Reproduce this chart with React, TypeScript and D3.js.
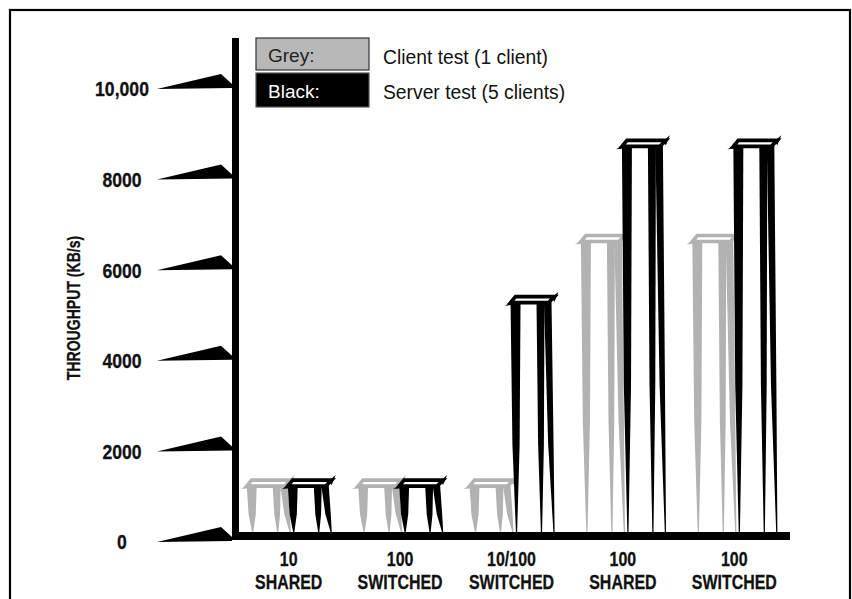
import React from "react";
import * as d3 from "d3";

const categoryTop = ["10", "100", "10/100", "100", "100"];
const categoryBottom = ["SHARED", "SWITCHED", "SWITCHED", "SHARED", "SWITCHED"];
const clientTest = [1300, 1300, 1300, 6700, 6700];
const serverTest = [1300, 1300, 5350, 8800, 8800];
const yTicks = [0, 2000, 4000, 6000, 8000, 10000];
const yTickLabels = ["0", "2000", "4000", "6000", "8000", "10,000"];
const seriesNames = ["client", "server"];
const legendKeys = ["Grey:", "Black:"];
const legendTexts = ["Client test (1 client)", "Server test (5 clients)"];

const W = 852;
const H = 599;
const GREY = "#b2b2b2";
const BLACK = "#000";
const BASE = 532;

const line = d3.line<[number, number]>();
const poly = (pts: [number, number][]) => line(pts) + "Z";

// a leg: top spans [a, b] at yTop, keeps most of its width to a knee, then tapers to a point p at the base
function leg(a: number, b: number, p: number, yTop: number, yB: number): string {
  const k = yTop + (yB - yTop) * 0.62;
  const m = (a + b) / 2;
  const half = (b - a) / 2;
  return poly([
    [a, yTop],
    [b, yTop],
    [m + half * 0.72 + (p - m) * 0.5, k],
    [p + 0.6, yB],
    [p - 0.6, yB],
    [m - half * 0.72 + (p - m) * 0.5, k],
  ]);
}

function Bar({ x0, w, yT, color }: { x0: number; w: number; yT: number; color: string }) {
  const yB = BASE;
  const legTop = yT + 2;
  return (
    <g>
      <path d={leg(x0 - 2, x0 + 8, x0 + 4, legTop, yB)} fill={color} />
      <path d={leg(x0 + w - 15, x0 + w - 7, x0 + w - 10, legTop, yB)} fill={color} />
      <path d={leg(x0 + w - 7.5, x0 + w, x0 + w + 2.5, legTop, yB)} fill={color} />
      <path
        d={poly([[x0 - 2, yT + 3], [x0 + w - 3, yT + 3], [x0 + w + 3, yT - 3], [x0 + 3, yT - 3]])}
        fill="#fff"
        stroke={color}
        strokeWidth={3.6}
      />
      <path d={poly([[x0 + w, yT - 2], [x0 + w + 7, yT - 8], [x0 + w + 3, yT + 2]])} fill={color} />
      <path d={poly([[x0 + 2, yT + 1], [x0 - 8, yT + 6], [x0 + 3, yT + 5]])} fill={color} />
    </g>
  );
}

export default function App() {
  const y = d3.scaleLinear().domain([0, 10000]).range([542, 89]);
  const x = d3.scaleBand<number>().domain(d3.range(categoryTop.length)).range([233, 790]);
  const sub = d3.scaleBand<string>().domain(seriesNames).range([-40, 40]).paddingInner(0.05);
  const bw = sub.bandwidth();
  const center = (i: number) => (x(i) as number) + x.bandwidth() / 2;
  const boldFont = "'Liberation Sans', Arial, Helvetica, sans-serif";

  return (
    <svg width={W} height={H} style={{ position: "absolute", left: 0, top: 0, background: "#fff" }}>
      <rect x={0} y={0} width={W} height={H} fill="#fff" />
      <rect x={10} y={10} width={840} height={640} fill="none" stroke="#000" strokeWidth={2.2} />

      {/* y ticks wedges */}
      {yTicks.map((t, i) => {
        const ty = y(t);
        return (
          <g key={"t" + i}>
            <path d={poly([[157, ty], [221, ty - 15], [232, ty - 5], [232, ty - 1]])} fill="#000" />
            <g transform={`translate(122,${ty}) scale(0.86,1)`}>
              <text textAnchor="middle" dy="0.36em" fontFamily={boldFont} fontWeight="bold" fontSize={20.5} fill="#111" stroke="#111" strokeWidth={0.3}>
                {yTickLabels[i]}
              </text>
            </g>
          </g>
        );
      })}

      {/* y-axis title */}
      <g transform="translate(73,308) rotate(-90) scale(0.76,1)">
        <text textAnchor="middle" dy="0.36em" fontFamily={boldFont} fontWeight="bold" fontSize={18.5} fill="#111" stroke="#111" strokeWidth={0.3}>
          THROUGHPUT (KB/s)
        </text>
      </g>

      {/* bars */}
      {clientTest.map((v, i) => (
        <Bar key={"c" + i} x0={center(i) + (sub("client") as number)} w={bw} yT={y(v)} color={GREY} />
      ))}
      {serverTest.map((v, i) => (
        <Bar key={"s" + i} x0={center(i) + (sub("server") as number)} w={bw} yT={y(v)} color={BLACK} />
      ))}

      {/* axes */}
      <rect x={232} y={38} width={7} height={502} fill="#000" />
      <rect x={232} y={532} width={558} height={8} fill="#000" />

      {/* category labels */}
      {categoryTop.map((c, i) => (
        <g key={"l" + i}>
          <g transform={`translate(${center(i)},566) scale(0.76,1)`}>
            <text textAnchor="middle" fontFamily={boldFont} fontWeight="bold" fontSize={21} fill="#111" stroke="#111" strokeWidth={0.3}>
              {c}
            </text>
          </g>
          <g transform={`translate(${center(i)},589) scale(0.76,1)`}>
            <text textAnchor="middle" fontFamily={boldFont} fontWeight="bold" fontSize={21} fill="#111" stroke="#111" strokeWidth={0.3}>
              {categoryBottom[i]}
            </text>
          </g>
        </g>
      ))}

      {/* legend */}
      <rect x={256} y={38} width={113} height={32} fill="#b8b8b8" stroke="#333" strokeWidth={1.2} />
      <rect x={256} y={73} width={113} height={34} fill="#000" stroke="#555" strokeWidth={1.2} />
      {legendKeys.map((k, i) => (
        <g key={"lg" + i}>
          <text x={268} y={i === 0 ? 55 : 91} dy="0.36em" fontFamily="'Liberation Sans', Arial, sans-serif" fontSize={19} fill={i === 0 ? "#222" : "#fff"}>
            {k}
          </text>
          <text x={383} y={i === 0 ? 57 : 92} dy="0.36em" fontFamily="'Liberation Sans', Arial, sans-serif" fontSize={19.3} fill="#111">
            {legendTexts[i]}
          </text>
        </g>
      ))}
    </svg>
  );
}
